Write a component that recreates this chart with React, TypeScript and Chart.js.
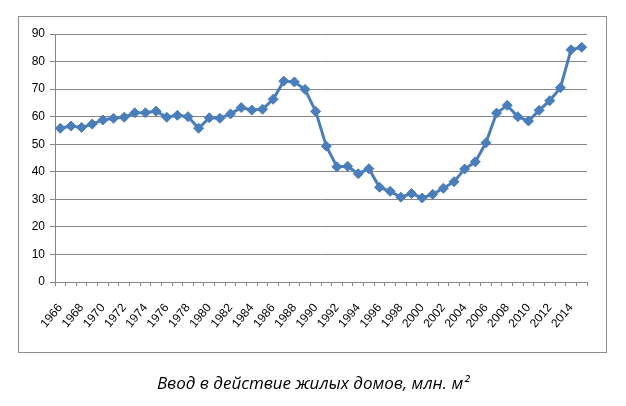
import React, { useEffect, useRef } from "react";
import { Chart, registerables } from "chart.js";

Chart.register(...registerables);

const years: string[] = [];
for (let y = 1966; y <= 2015; y++) years.push(String(y));

const values: number[] = [
  55.8, 56.6, 56.1, 57.3, 58.8, 59.4, 59.8, 61.4, 61.4, 62.0,
  59.8, 60.5, 60.0, 55.8, 59.6, 59.4, 61.0, 63.3, 62.4, 62.7,
  66.3, 72.9, 72.6, 69.9, 61.9, 49.3, 41.8, 42.0, 39.3, 41.1,
  34.4, 32.9, 30.8, 32.1, 30.5, 31.8, 34.0, 36.4, 41.0, 43.6,
  50.5, 61.3, 64.1, 60.0, 58.4, 62.3, 65.8, 70.5, 84.3, 85.2,
];

const yTicks: number[] = [0, 10, 20, 30, 40, 50, 60, 70, 80, 90];
const caption = "Ввод в действие жилых домов, млн. м²";

const framePlugin = {
  id: "frame",
  beforeDraw(chart: any) {
    const ctx = chart.ctx;
    ctx.save();
    ctx.fillStyle = "#ffffff";
    ctx.fillRect(0, 0, chart.width, chart.height);
    ctx.strokeStyle = "#8c8c8c";
    ctx.lineWidth = 1;
    ctx.strokeRect(18.5, 16.5, 588, 336);
    ctx.restore();
  },
  afterDraw(chart: any) {
    const ctx = chart.ctx;
    ctx.save();
    ctx.fillStyle = "#000000";
    ctx.font = "italic 17px 'Open Sans', 'DejaVu Sans', sans-serif";
    ctx.textAlign = "center";
    ctx.textBaseline = "middle";
    ctx.fillText(caption, 313, 384);
    ctx.restore();
  },
};

export default function App() {
  const ref = useRef<HTMLCanvasElement | null>(null);
  useEffect(() => {
    document.body.style.margin = "0";
    if (!ref.current) return;
    const chart = new Chart(ref.current, {
      type: "line",
      data: {
        labels: years,
        datasets: [
          {
            data: values,
            borderColor: "#4a7ebb",
            backgroundColor: "#4a7ebb",
            borderWidth: 3,
            pointStyle: "rectRot",
            pointRadius: 5,
            pointHoverRadius: 5,
            pointBorderWidth: 1,
            tension: 0,
          },
        ],
      },
      options: {
        responsive: false,
        animation: false,
        devicePixelRatio: 1,
        layout: { padding: { left: 18, right: 39, top: 34, bottom: 0 } },
        plugins: { legend: { display: false }, tooltip: { enabled: false }, title: { display: false } },
        scales: {
          x: {
            type: "category",
            offset: true,
            afterFit: (s: any) => {
              s.height = 124;
            },
            grid: {
              display: true,
              drawOnChartArea: false,
              drawTicks: true,
              tickLength: 4,
              offset: true,
              color: "#868686",
            },
            border: { display: true, color: "#868686", width: 1 },
            ticks: {
              autoSkip: false,
              maxRotation: 50,
              minRotation: 50,
              padding: 15,
              color: "#000000",
              font: { family: "'Liberation Sans', sans-serif", size: 12 },
              callback: (_v: any, i: number) => (i % 2 === 0 ? years[i] : ""),
            },
          },
          y: {
            min: 0,
            max: 90,
            afterFit: (s: any) => {
              s.width = 37;
            },
            afterBuildTicks: (s: any) => {
              s.ticks = yTicks.map((v) => ({ value: v }));
            },
            grid: {
              color: "#868686",
              lineWidth: 1,
              drawTicks: true,
              tickLength: 5,
            },
            border: { display: true, color: "#868686" },
            ticks: {
              padding: 5,
              color: "#000000",
              font: { family: "'Liberation Sans', sans-serif", size: 12 },
            },
          },
        },
      },
      plugins: [framePlugin],
    });
    return () => chart.destroy();
  }, []);
  return (
    <div style={{ position: "absolute", left: 0, top: 0, width: 626, height: 406 }}>
      <canvas ref={ref} width={626} height={406} style={{ width: 626, height: 406 }} />
    </div>
  );
}
